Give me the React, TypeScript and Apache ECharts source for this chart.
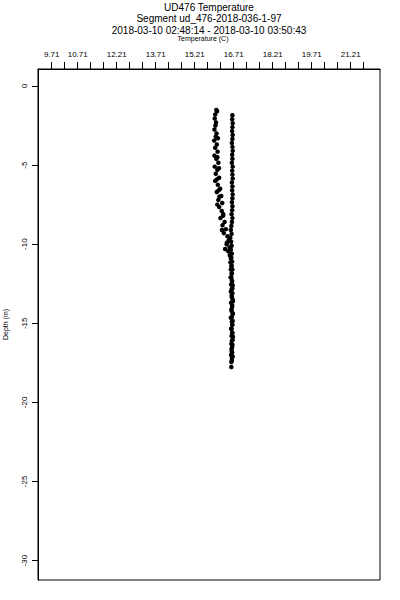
import React, { useEffect, useRef } from "react";
import * as echarts from "echarts";

const titleLines = [
  "UD476 Temperature",
  "Segment ud_476-2018-036-1-97",
  "2018-03-10 02:48:14 - 2018-03-10 03:50:43",
];
const xAxisName = "Temperature (C)";
const yAxisName = "Depth (m)";

const xTickValues = [
  9.71, 10.21, 10.71, 11.21, 11.71, 12.21, 12.71, 13.21, 13.71, 14.21, 14.71, 15.21, 15.71,
  16.21, 16.71, 17.21, 17.71, 18.21, 18.71, 19.21, 19.71, 20.21, 20.71, 21.21, 21.71,
];
const xLabelValues = [9.71, 10.71, 12.21, 13.71, 15.21, 16.71, 18.21, 19.71, 21.21];
const yTickValues = [0, -5, -10, -15, -20, -25, -30];

// [temperature (C), depth (m)]
const castDown: [number, number][] = [
  [16.04, -1.52], [16.07, -1.6], [16.0, -1.8], [15.98, -2.05], [16.03, -2.3], [16.01, -2.5],
  [15.97, -2.75], [16.05, -3.0], [16.02, -3.2], [15.96, -3.45], [16.06, -3.7], [16.0, -3.9],
  [16.09, -4.15], [15.97, -4.4], [16.04, -4.6], [16.12, -4.85], [15.98, -5.1], [16.08, -5.3],
  [16.02, -5.55], [16.15, -5.8], [16.0, -6.0], [16.1, -6.25], [16.19, -6.5], [16.06, -6.7],
  [16.23, -6.95], [16.12, -7.2], [16.27, -7.4], [16.15, -7.65], [16.25, -7.9], [16.31, -8.1],
  [16.2, -8.35], [16.36, -8.6], [16.28, -8.8], [16.41, -9.05], [16.33, -9.3], [16.47, -9.5],
  [16.52, -9.75], [16.44, -10.0], [16.55, -10.2], [16.5, -10.45], [16.56, -10.7], [16.6, -10.9],
  [16.58, -11.15], [16.62, -11.4], [16.6, -11.6], [16.63, -11.85], [16.59, -12.1], [16.64, -12.3],
  [16.61, -12.55], [16.66, -12.8], [16.6, -13.0], [16.63, -13.25], [16.67, -13.5], [16.61, -13.7],
  [16.65, -13.95], [16.62, -14.2], [16.68, -14.4], [16.6, -14.65], [16.64, -14.9], [16.66, -15.1],
  [16.61, -15.35], [16.65, -15.6], [16.63, -15.8], [16.67, -16.05], [16.62, -16.3], [16.65, -16.5],
  [16.63, -16.75], [16.61, -17.0], [16.64, -17.2], [16.62, -17.45], [16.62, -17.76],
];

// extra readings in the noisy upper layer (clumps beside the down cast)
const castDownExtra: [number, number][] = [
  [16.1, -3.3], [16.08, -4.5], [16.14, -5.2], [16.06, -5.9], [16.13, -6.6], [16.16, -7.0],
  [16.08, -7.5], [16.3, -8.2], [16.26, -9.1], [16.45, -9.9], [16.38, -10.3],
];

const castUp: [number, number][] = [
  [16.66, -1.85], [16.65, -2.1], [16.67, -2.35], [16.66, -2.6], [16.65, -2.85], [16.67, -3.1],
  [16.66, -3.35], [16.64, -3.6], [16.66, -3.85], [16.67, -4.1], [16.65, -4.35], [16.66, -4.6],
  [16.64, -4.85], [16.67, -5.1], [16.65, -5.35], [16.66, -5.6], [16.67, -5.85], [16.64, -6.1],
  [16.66, -6.35], [16.65, -6.6], [16.67, -6.85], [16.66, -7.1], [16.64, -7.35], [16.66, -7.6],
  [16.65, -7.85], [16.63, -8.1], [16.66, -8.35], [16.64, -8.6], [16.62, -8.85], [16.6, -9.1],
  [16.63, -9.35], [16.58, -9.6], [16.61, -9.85], [16.63, -10.1], [16.6, -10.35], [16.64, -10.6],
  [16.62, -10.85], [16.65, -11.1], [16.63, -11.35], [16.66, -11.6], [16.64, -11.85], [16.62, -12.1],
  [16.65, -12.35], [16.67, -12.6], [16.63, -12.85], [16.66, -13.1], [16.64, -13.35], [16.68, -13.6],
  [16.65, -13.85], [16.63, -14.1], [16.66, -14.35], [16.64, -14.6], [16.67, -14.85], [16.65, -15.1],
  [16.63, -15.35], [16.66, -15.6], [16.68, -15.85], [16.64, -16.1], [16.66, -16.35], [16.63, -16.6],
  [16.65, -16.85], [16.67, -17.1], [16.64, -17.35],
];

const FONT = "'Liberation Sans', Arial, Helvetica, sans-serif";

export default function App() {
  const ref = useRef<HTMLDivElement>(null);
  useEffect(() => {
    if (!ref.current) return;
    const chart = echarts.init(ref.current, undefined, { renderer: "svg" });
    const gridLeft = 38;
    const gridRight = 380;
    const centerX = (gridLeft + gridRight) / 2;
    const dotStyle = { color: "#000", opacity: 1 };
    chart.setOption({
      animation: false,
      backgroundColor: "#fff",
      textStyle: { fontFamily: FONT, color: "#000" },
      grid: {
        left: gridLeft,
        right: 400 - gridRight,
        top: 69,
        bottom: 20,
        containLabel: false,
        outerBoundsMode: "none",
        show: true,
        borderColor: "#000",
        borderWidth: 1,
      },
      graphic: [
        ...titleLines.map((t, i) => ({
          type: "text",
          x: centerX,
          y: [7, 18.5, 30][i],
          style: {
            text: t,
            fill: "#000",
            font: `10px ${FONT}`,
            textAlign: "center",
            textVerticalAlign: "middle",
          },
        })),
        {
          type: "text",
          x: 203,
          y: 38.5,
          style: {
            text: xAxisName,
            fill: "#000",
            font: `7px ${FONT}`,
            textAlign: "center",
            textVerticalAlign: "middle",
          },
        },
      ],
      xAxis: {
        type: "value",
        position: "top",
        min: 9.183,
        max: 22.337,
        splitLine: { show: false },
        axisLine: { show: true, onZero: false, lineStyle: { color: "#000", width: 1 } },
        axisTick: {
          show: true,
          length: 7,
          customValues: xTickValues,
          lineStyle: { color: "#000", width: 1 },
        },
        axisLabel: {
          customValues: xLabelValues,
          formatter: (v: number) => v.toFixed(2),
          fontSize: 8,
          margin: 11,
          color: "#000",
          fontFamily: FONT,
        },
      },
      yAxis: {
        type: "value",
        min: -31.23,
        max: 1.075,
        splitLine: { show: false },
        axisLine: { show: true, onZero: false, lineStyle: { color: "#000", width: 1 } },
        axisTick: {
          show: true,
          length: 6,
          customValues: yTickValues,
          lineStyle: { color: "#000", width: 1 },
        },
        axisLabel: {
          customValues: yTickValues,
          rotate: 90,
          fontSize: 8,
          margin: 10,
          color: "#000",
          fontFamily: FONT,
        },
        name: yAxisName,
        nameLocation: "middle",
        nameGap: 29,
        nameTextStyle: { fontSize: 7, color: "#000", fontFamily: FONT },
      },
      series: [
        { type: "scatter", data: castDown, symbol: "circle", symbolSize: 4.5, itemStyle: dotStyle },
        { type: "scatter", data: castDownExtra, symbol: "circle", symbolSize: 4.5, itemStyle: dotStyle },
        { type: "scatter", data: castUp, symbol: "circle", symbolSize: 4.5, itemStyle: dotStyle },
      ],
    });
    return () => chart.dispose();
  }, []);
  return (
    <div
      ref={ref}
      style={{ position: "absolute", left: 0, top: 0, width: 400, height: 600 }}
    />
  );
}
